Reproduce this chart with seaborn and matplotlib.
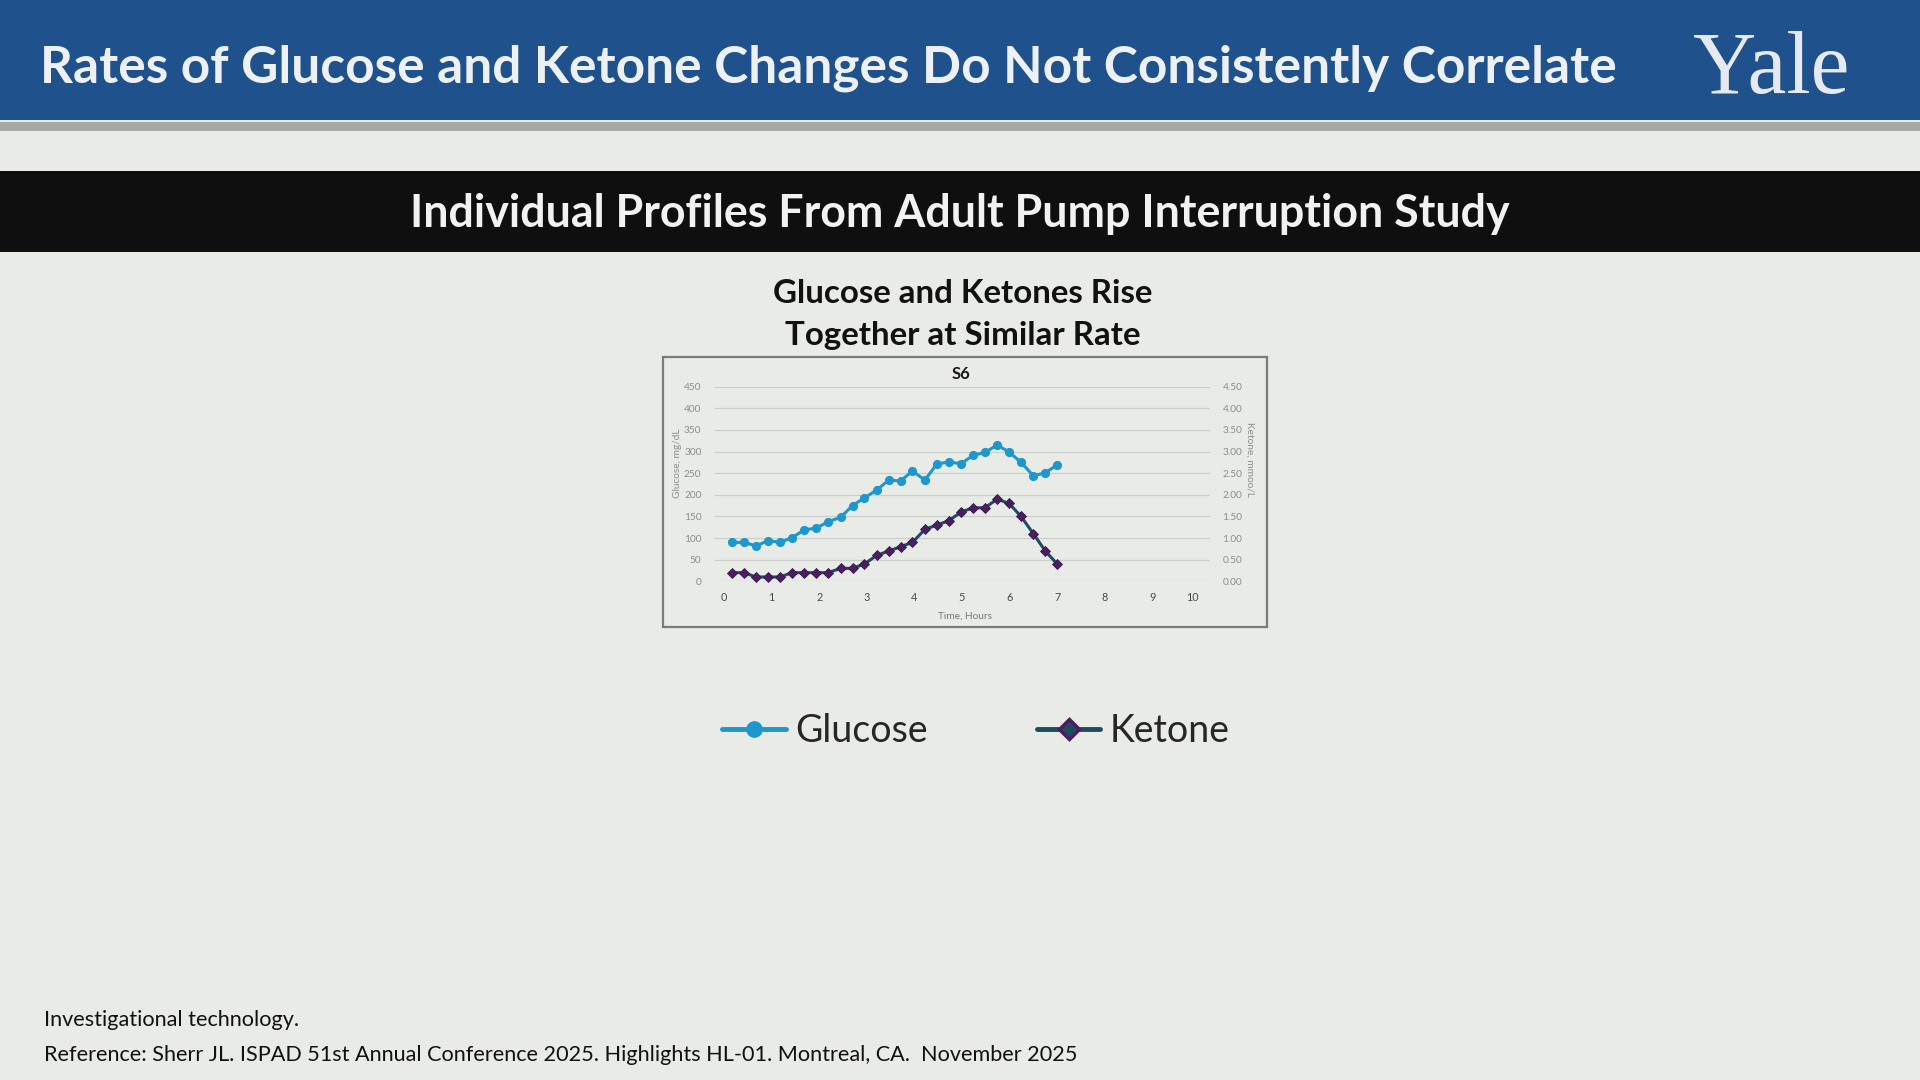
import matplotlib
matplotlib.use("Agg")
import matplotlib.pyplot as plt
import matplotlib.transforms as mtransforms
from matplotlib.patches import Rectangle
from matplotlib.lines import Line2D
import seaborn as sns

# values (time in hours, glucose mg/dL, ketone mmol/L)
hours = [0.17, 0.42, 0.67, 0.93, 1.18, 1.43, 1.69, 1.94, 2.19, 2.45,
         2.70, 2.95, 3.21, 3.46, 3.71, 3.96, 4.22, 4.47, 4.72, 4.98,
         5.23, 5.48, 5.74, 5.99, 6.24, 6.50, 6.75, 7.00]
glucose = [90, 90, 82, 94, 90, 101, 119, 123, 138, 148,
           175, 193, 211, 234, 232, 255, 234, 271, 276, 272,
           291, 298, 315, 299, 275, 244, 251, 269]
ketone = [0.2, 0.2, 0.1, 0.1, 0.1, 0.2, 0.2, 0.2, 0.2, 0.3,
          0.3, 0.4, 0.6, 0.7, 0.8, 0.9, 1.2, 1.3, 1.4, 1.6,
          1.7, 1.7, 1.9, 1.8, 1.5, 1.1, 0.7, 0.4]
glucose_ticks = [0, 50, 100, 150, 200, 250, 300, 350, 400, 450]
ketone_ticks = [0.0, 0.5, 1.0, 1.5, 2.0, 2.5, 3.0, 3.5, 4.0, 4.5]
hour_ticks = [0, 1, 2, 3, 4, 5, 6, 7, 8, 9, 10]

sns.set_theme(style="white")
plt.rcParams["font.family"] = ["Lato", "DejaVu Sans"]

W, H = 1920, 1080
bg = "#E8EBE6"
glucose_color = "#1E97CC"
ketone_line = "#1F4B63"
ketone_marker = "#4B1F5F"


def fx(x):
    return x / W


def fy(y):
    return 1 - y / H


fig = plt.figure(figsize=(19.2, 10.8), dpi=100, facecolor=bg)

# slide bands
fig.add_artist(Rectangle((0, fy(120)), 1, 120 / H, transform=fig.transFigure,
                         facecolor="#1F528C", edgecolor="none", zorder=0))
fig.add_artist(Rectangle((0, fy(131)), 1, 9 / H, transform=fig.transFigure,
                         facecolor="#A6A9A7", edgecolor="none", zorder=0))
fig.add_artist(Rectangle((0, fy(252)), 1, 81 / H, transform=fig.transFigure,
                         facecolor="#0E0F0E", edgecolor="none", zorder=0))

fig.text(fx(40), fy(68), "Rates of Glucose and Ketone Changes Do Not Consistently Correlate",
         ha="left", va="center", fontsize=37, fontweight="bold", color="#EEF1F4")
fig.text(fx(1771), fy(72), "Yale", ha="center", va="center", fontsize=63,
         family="Liberation Serif", color="#E6EAF0")
fig.text(0.5, fy(214), "Individual Profiles From Adult Pump Interruption Study",
         ha="center", va="center", fontsize=32.2, fontweight="bold", color="#F2F2F2")
fig.text(fx(963), fy(294), "Glucose and Ketones Rise", ha="center", va="center",
         fontsize=23.8, fontweight="bold", color="#111111")
fig.text(fx(963), fy(336), "Together at Similar Rate", ha="center", va="center",
         fontsize=23.8, fontweight="bold", color="#111111")

# chart frame
fig.add_artist(Rectangle((fx(663), fy(627)), 604 / W, 270 / H, transform=fig.transFigure,
                         facecolor="none", edgecolor="#7A7C7A", linewidth=1.6, zorder=1))

ax = fig.add_axes([fx(714), fy(581.3), 496 / W, 194.6 / H])
ax.set_facecolor("none")

sns.lineplot(x=hours, y=glucose, ax=ax, color=glucose_color, linewidth=2.2,
             marker="o", markersize=6.6, markeredgewidth=0, markeredgecolor=glucose_color,
             clip_on=False, zorder=3)

ax.set_xlim(-0.21, 10.21)
ax.set_ylim(0, 450)
ax.set_xticks(hour_ticks)
ax.set_yticks(glucose_ticks)
ax.grid(axis="y", color="#CDCFCD", linewidth=0.9)
ax.grid(axis="x", visible=False)
ax.tick_params(axis="y", length=0, pad=9, labelsize=7.3, labelcolor="#8C8E8C")
ax.tick_params(axis="x", length=0, pad=8, labelsize=7.8, labelcolor="#4A4A4A")
for s in ax.spines.values():
    s.set_visible(False)

# the last hour label sits a little inside the plot edge, as in the slide
last = ax.get_xticklabels()[-1]
last.set_transform(last.get_transform()
                   + mtransforms.ScaledTranslation(-0.08, 0, fig.dpi_scale_trans))

ax2 = ax.twinx()
sns.lineplot(x=hours, y=ketone, ax=ax2, color=ketone_line, linewidth=2.2,
             marker="D", markersize=5.4, markerfacecolor=ketone_marker,
             markeredgecolor="#3A1850", markeredgewidth=0.6, clip_on=False, zorder=3)
ax2.set_ylim(0, 4.5)
ax2.set_yticks(ketone_ticks)
ax2.set_yticklabels([f"{v:.2f}" for v in ketone_ticks])
ax2.grid(False)
ax2.tick_params(axis="y", length=0, pad=9, labelsize=7.3, labelcolor="#8C8E8C")
for s in ax2.spines.values():
    s.set_visible(False)

fig.text(fx(678), fy(463), "Glucose, mg/dL", rotation=90, ha="center", va="center",
         fontsize=7.3, color="#8C8E8C")
fig.text(fx(1250), fy(460), "Ketone, mmoo/L", rotation=270, ha="center", va="center",
         fontsize=7.3, color="#8C8E8C")
fig.text(fx(961), fy(374), "S6", ha="center", va="center", fontsize=12,
         fontweight="bold", color="#1A1A1A")
fig.text(fx(965), fy(616), "Time, Hours", ha="center", va="center", fontsize=7.3,
         color="#7A7A7A")

# legend below the chart
handles = [
    Line2D([], [], color=glucose_color, linewidth=3.5, marker="o", markersize=12,
           markeredgewidth=0),
    Line2D([], [], color=ketone_line, linewidth=3.5, marker="D", markersize=10.5,
           markerfacecolor=ketone_line, markeredgecolor=ketone_marker, markeredgewidth=2.5),
]
fig.legend(handles, ["Glucose", "Ketone"], loc="center", bbox_to_anchor=(fx(976), fy(731)),
           ncol=2, frameon=False, fontsize=27, handlelength=1.7, handletextpad=0.25,
           columnspacing=2.9)

fig.text(fx(44), fy(1020), "Investigational technology.", ha="left", va="center",
         fontsize=15.6, color="#111111")
fig.text(fx(44), fy(1055),
         "Reference: Sherr JL. ISPAD 51st Annual Conference 2025. Highlights HL-01. Montreal, CA.  November 2025",
         ha="left", va="center", fontsize=15.6, color="#111111")

fig.savefig("out.png", dpi=100, facecolor=bg)
